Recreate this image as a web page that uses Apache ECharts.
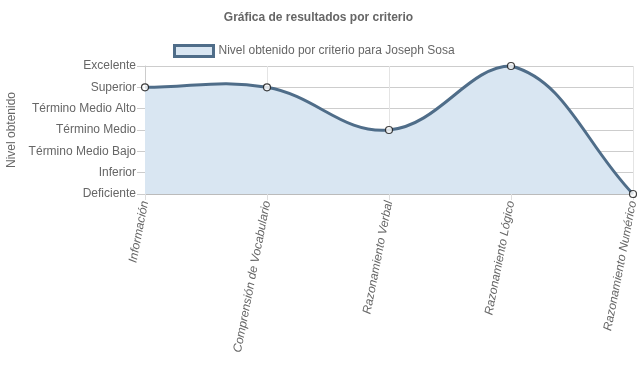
<!DOCTYPE html>
<html><head><meta charset="utf-8">
<script src="https://cdn.jsdelivr.net/npm/echarts@6/dist/echarts.min.js"></script>
<style>html,body{margin:0;padding:0;background:#fff}#c{width:637px;height:389px}</style>
</head><body><div id="c"></div>
<script>
const categories = ['Información', 'Comprensión de Vocabulario', 'Razonamiento Verbal', 'Razonamiento Lógico', 'Razonamiento Numérico'];
const levels = ['Deficiente', 'Inferior', 'Término Medio Bajo', 'Término Medio', 'Término Medio Alto', 'Superior', 'Excelente'];
const values = [5, 5, 3, 6, 0];
const seriesName = 'Nivel obtenido por criterio para Joseph Sosa';
const FONT = '"Liberation Sans", Arial, Helvetica, sans-serif';
const LINE = '#4f6d89', FILL = '#d9e6f2';
const TENSION = 0.4;

function curvePath(pts, area) {
  // Chart.js-style cardinal spline control points, capped to the chart area
  const cps = pts.map((p, i) => {
    const prev = pts[i - 1] || p, next = pts[i + 1] || p;
    const d01 = Math.hypot(p[0] - prev[0], p[1] - prev[1]);
    const d12 = Math.hypot(next[0] - p[0], next[1] - p[1]);
    let s01 = d01 / (d01 + d12), s12 = d12 / (d01 + d12);
    if (isNaN(s01)) s01 = 0; if (isNaN(s12)) s12 = 0;
    const fa = TENSION * s01, fb = TENSION * s12;
    const cap = (x, y) => [Math.max(area.x, Math.min(area.x + area.width, x)), Math.max(area.y, Math.min(area.y + area.height, y))];
    return {
      prev: cap(p[0] - fa * (next[0] - prev[0]), p[1] - fa * (next[1] - prev[1])),
      next: cap(p[0] + fb * (next[0] - prev[0]), p[1] + fb * (next[1] - prev[1]))
    };
  });
  let d = 'M' + pts[0][0] + ' ' + pts[0][1];
  for (let i = 1; i < pts.length; i++) {
    const a = cps[i - 1].next, b = cps[i].prev, p = pts[i];
    d += ' C' + a[0] + ' ' + a[1] + ' ' + b[0] + ' ' + b[1] + ' ' + p[0] + ' ' + p[1];
  }
  return d;
}

const chart = echarts.init(document.getElementById('c'));
chart.setOption({
  animation: false,
  textStyle: {fontFamily: FONT},
  title: {text: 'Gráfica de resultados por criterio', left: 'center', top: 7,
    textStyle: {fontFamily: FONT, fontSize: 12, fontWeight: 'bold', color: '#666'}},
  legend: {top: 39, left: 168, itemWidth: 39, itemHeight: 11, itemGap: 10,
    textStyle: {fontFamily: FONT, fontSize: 12, color: '#666'},
    data: [{name: seriesName, icon: 'rect',
      itemStyle: {color: FILL, borderColor: LINE, borderWidth: 3}}]},
  grid: {left: 145, right: 4, top: 66, bottom: 195, containLabel: false, outerBoundsMode: 'none'},
  xAxis: {type: 'category', data: categories, boundaryGap: false,
    axisLine: {show: true, lineStyle: {color: '#bbb'}},
    axisTick: {show: true, length: 6, lineStyle: {color: '#ddd'}},
    splitLine: {show: true, lineStyle: {color: '#e4e4e4'}},
    axisLabel: {rotate: 79, margin: 7, fontSize: 12, fontStyle: 'italic', color: '#666', fontFamily: FONT, interval: 0}},
  yAxis: {type: 'value', min: 0, max: 6, interval: 1,
    name: 'Nivel obtenido', nameLocation: 'middle', nameGap: 127, nameRotate: 90,
    nameTextStyle: {fontFamily: FONT, fontSize: 12, color: '#666'},
    axisLine: {show: true, lineStyle: {color: '#ccc'}},
    axisTick: {show: true, length: 8, lineStyle: {color: '#ccc'}},
    splitLine: {show: true, lineStyle: {color: '#cdcdcd'}},
    axisLabel: {margin: 9, fontSize: 12, color: '#666', fontFamily: FONT,
      formatter: v => levels[v]}},
  series: [
    {name: seriesName, type: 'custom', data: values.map((v, i) => [i, v]),
      itemStyle: {color: FILL, borderColor: LINE},
      clip: false, z: 2,
      renderItem: (params, api) => {
        if (params.dataIndex !== 0) return null;
        const pts = values.map((v, i) => api.coord([i, v]));
        const area = params.coordSys;
        const line = curvePath(pts, area);
        const base = api.coord([0, 0])[1];
        const last = pts[pts.length - 1], first = pts[0];
        const fill = line + ' L' + last[0] + ' ' + base + ' L' + first[0] + ' ' + base + ' Z';
        return {type: 'group', children: [
          {type: 'path', shape: {pathData: fill}, style: {fill: FILL, stroke: null}},
          {type: 'path', shape: {pathData: line}, style: {fill: null, stroke: LINE, lineWidth: 3}}
        ]};
      }},
    {name: 'points', type: 'scatter', data: values.map((v, i) => [i, v]),
      symbol: 'circle', symbolSize: 7, z: 3, clip: false,
      itemStyle: {color: '#fff', borderColor: '#111', borderWidth: 1.2}}
  ]
});
</script></body></html>
